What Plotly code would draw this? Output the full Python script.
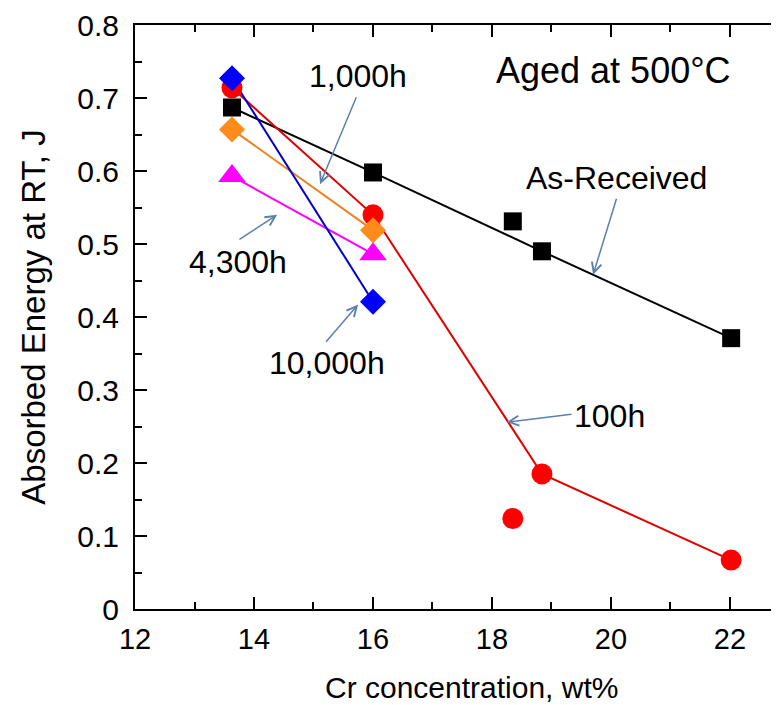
import plotly.graph_objects as go

# ---- data ----
cr_asrec = [13.63, 16.0, 18.35, 18.84, 22.02]
e_asrec = [0.687, 0.598, 0.531, 0.490, 0.371]
asrec_line_idx = [0, 1, 3, 4]

cr_100h = [13.63, 16.0, 18.35, 18.84, 22.02]
e_100h = [0.714, 0.540, 0.124, 0.185, 0.067]
h100_line_idx = [0, 1, 3, 4]

cr_1000h = [13.63, 16.0]
e_1000h = [0.657, 0.519]

cr_4300h = [13.63, 16.0]
e_4300h = [0.593, 0.486]

cr_10000h = [13.63, 16.0]
e_10000h = [0.727, 0.421]

x_ticks = [12, 14, 16, 18, 20, 22]
y_ticks = [0, 0.1, 0.2, 0.3, 0.4, 0.5, 0.6, 0.7, 0.8]

FONT = "Liberation Sans, Arial, sans-serif"
ARROW = "#5b80ad"

fig = go.Figure()

def line(xs, ys, color, width=2):
    fig.add_trace(go.Scatter(x=xs, y=ys, mode="lines",
                             line=dict(color=color, width=width),
                             showlegend=False, hoverinfo="skip"))

def marks(xs, ys, color, symbol, size):
    fig.add_trace(go.Scatter(x=xs, y=ys, mode="markers",
                             marker=dict(color=color, symbol=symbol, size=size,
                                         line=dict(width=0)),
                             showlegend=False))

# lines first
line([cr_asrec[i] for i in asrec_line_idx], [e_asrec[i] for i in asrec_line_idx], "black")
line([cr_100h[i] for i in h100_line_idx], [e_100h[i] for i in h100_line_idx], "#e00000")
line(cr_1000h, e_1000h, "#f08020")
line(cr_4300h, e_4300h, "#ff00ff")
line(cr_10000h, e_10000h, "#0000cc")

# markers on top
marks(cr_asrec, e_asrec, "black", "square", 18)
marks(cr_100h, e_100h, "#ff0000", "circle", 21)
marks(cr_1000h, e_1000h, "#ff8c1a", "diamond", 20)
marks(cr_4300h, e_4300h, "#ff00ff", "triangle-up", 24)
marks(cr_10000h, e_10000h, "#0000ff", "diamond", 20)

annots = []
def label(x, y, text, size=32):
    annots.append(dict(x=x, y=y, xref="x", yref="y", text=text, showarrow=False,
                       font=dict(family=FONT, size=size, color="black"),
                       xanchor="center", yanchor="middle"))

def arrow(x0, y0, x1, y1):
    annots.append(dict(x=x1, y=y1, ax=x0, ay=y0, xref="x", yref="y",
                       axref="x", ayref="y", text="", showarrow=True,
                       arrowhead=5, arrowsize=1.3, arrowwidth=1.5,
                       arrowcolor=ARROW, standoff=0, startstandoff=0))

label(15.75, 0.730, "1,000h")
arrow(15.73, 0.703, 15.11, 0.582)
label(13.73, 0.475, "4,300h")
arrow(13.73, 0.505, 14.39, 0.540)
label(15.23, 0.337, "10,000h")
arrow(15.19, 0.364, 15.75, 0.417)
label(19.97, 0.264, "100h")
arrow(19.36, 0.267, 18.25, 0.256)
label(20.10, 0.590, "As-Received")
arrow(20.10, 0.564, 19.70, 0.458)
label(20.05, 0.737, "Aged at 500°C", size=36)

# x-axis title, placed as in the reference (slightly right of the plot centre)
annots.append(dict(x=0.522, y=-0.135, xref="paper", yref="paper",
                   text="Cr concentration, wt%", showarrow=False,
                   font=dict(family=FONT, size=30, color="black"),
                   xanchor="center", yanchor="middle"))

# the page body has an 8px default margin, so the figure is 8px smaller
fig.update_layout(
    width=771, height=697,
    margin=dict(l=127, r=0, t=14, b=96),
    paper_bgcolor="white", plot_bgcolor="white",
    font=dict(family=FONT, color="black"),
    annotations=annots,
    xaxis=dict(range=[12, 22.824], tickvals=x_ticks, ticks="inside", ticklen=12,
               tickwidth=1.5, tickcolor="black",
               minor=dict(dtick=1, ticks="inside", ticklen=7, tickwidth=1.5, tickcolor="black"),
               showline=True, linecolor="black", linewidth=2, mirror="ticks",
               showgrid=False, zeroline=False, ticklabeloverflow="allow",
               tickfont=dict(size=29), ticklabelstandoff=3),
    yaxis=dict(range=[0, 0.8], tickvals=y_ticks, ticks="inside", ticklen=12,
               tickwidth=1.5, tickcolor="black",
               minor=dict(dtick=0.05, ticks="inside", ticklen=7, tickwidth=1.5, tickcolor="black"),
               showline=True, linecolor="black", linewidth=2,
               showgrid=False, zeroline=False, ticklabeloverflow="allow",
               tickfont=dict(size=30), ticklabelstandoff=8,
               title=dict(text="Absorbed Energy at RT, J", font=dict(size=33), standoff=22)),
)

fig.write_html("out.html")
